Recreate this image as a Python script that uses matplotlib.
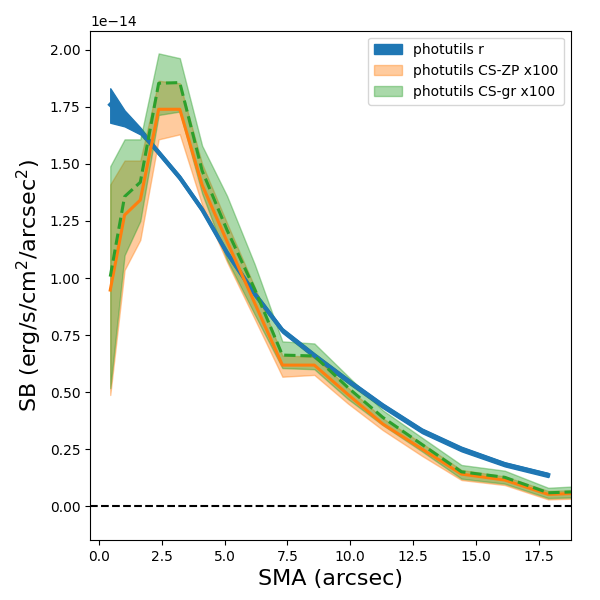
import numpy as np
import matplotlib
matplotlib.use("Agg")
import matplotlib.pyplot as plt

scale = 1e-14

sma = [0.455, 1.025, 1.65, 2.38, 3.22, 4.11, 5.1, 6.2, 7.30, 8.57, 9.9, 11.29,
       12.85, 14.42, 16.14, 17.87, 19.6]

# photutils r (blue)
sma_r = sma[:-1]
sb_r = [1.76, 1.70, 1.645, 1.55, 1.44, 1.30, 1.11, 0.93, 0.77, 0.66, 0.55, 0.44,
        0.33, 0.25, 0.183, 0.136]
sb_r_lo = [1.681, 1.665, 1.63, 1.54, 1.43, 1.29, 1.10, 0.92, 0.76, 0.65, 0.54, 0.43,
           0.32, 0.24, 0.174, 0.127]
sb_r_hi = [1.832, 1.735, 1.66, 1.56, 1.45, 1.31, 1.12, 0.94, 0.78, 0.67, 0.56, 0.45,
           0.34, 0.26, 0.192, 0.145]

# photutils CS-ZP x100 (orange)
sb_zp = [0.947, 1.276, 1.342, 1.74, 1.74, 1.408, 1.16, 0.89, 0.618, 0.618, 0.49, 0.36,
         0.25, 0.140, 0.114, 0.051, 0.058]
sb_zp_hi = [1.41, 1.515, 1.515, 1.865, 1.854, 1.50, 1.24, 0.96, 0.66, 0.655, 0.52, 0.385,
            0.275, 0.158, 0.13, 0.066, 0.072]
sb_zp_lo = [0.487, 1.035, 1.167, 1.608, 1.63, 1.32, 1.07, 0.82, 0.567, 0.575, 0.45, 0.333,
            0.22, 0.114, 0.092, 0.029, 0.035]

# photutils CS-gr x100 (green)
sb_gr = [1.006, 1.357, 1.42, 1.854, 1.857, 1.47, 1.21, 0.95, 0.662, 0.658, 0.52, 0.389,
         0.27, 0.150, 0.126, 0.058, 0.065]
sb_gr_hi = [1.49, 1.608, 1.608, 1.985, 1.964, 1.58, 1.36, 1.06, 0.722, 0.713, 0.57, 0.42,
            0.30, 0.18, 0.155, 0.080, 0.09]
sb_gr_lo = [0.517, 1.10, 1.25, 1.715, 1.73, 1.37, 1.08, 0.84, 0.605, 0.60, 0.47, 0.355,
            0.24, 0.12, 0.098, 0.035, 0.04]

labels = ["photutils r", "photutils CS-ZP x100", "photutils CS-gr x100"]

s = lambda a: np.array(a) * scale

fig = plt.figure(figsize=(6, 6), dpi=100)
ax = fig.add_axes([0.15, 0.1, 0.801, 0.849])

ax.fill_between(sma_r, s(sb_r_lo), s(sb_r_hi), color="C0", alpha=1.0, label=labels[0])
ax.plot(sma_r, s(sb_r), color="C0", lw=3)

ax.fill_between(sma, s(sb_zp_lo), s(sb_zp_hi), color="C1", alpha=0.4, label=labels[1])
ax.plot(sma, s(sb_zp), color="C1", lw=2.2)

ax.fill_between(sma, s(sb_gr_lo), s(sb_gr_hi), color="C2", alpha=0.4, label=labels[2])
ax.plot(sma, s(sb_gr), color="C2", lw=2.2, ls="--")

ax.axhline(0, color="k", ls="--", lw=1.5)

ax.set_xlim(-0.35, 18.76)
ax.set_ylim(-0.149e-14, 2.085e-14)
ax.set_xlabel("SMA (arcsec)", fontsize=16)
ax.set_ylabel("SB (erg/s/cm$^2$/arcsec$^2$)", fontsize=16)
ax.legend(loc="upper right")

fig.savefig("out.png", dpi=100)
